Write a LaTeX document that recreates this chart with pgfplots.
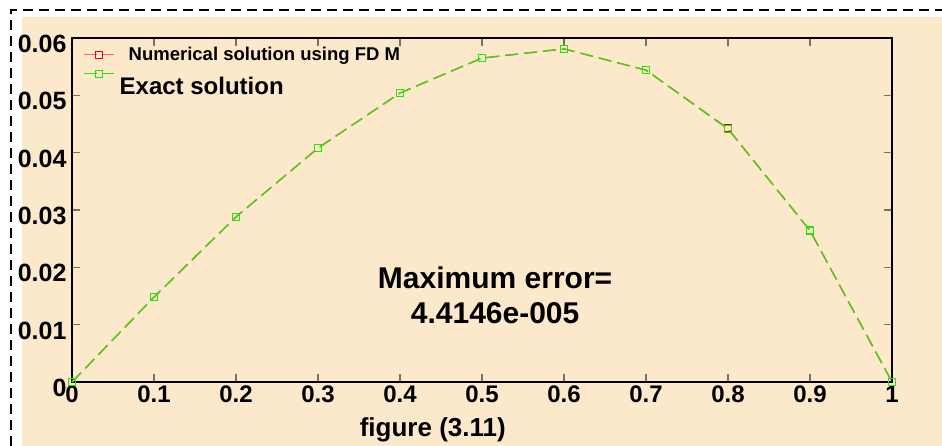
\documentclass[border=0pt]{standalone}
\usepackage{pgfplots}
\pgfplotsset{compat=1.18}
\usepackage{fontspec}
\setmainfont{Liberation Sans}

\definecolor{bgbeige}{RGB}{252,232,202}
\definecolor{fdred}{RGB}{255,100,90}
\definecolor{fdmark}{RGB}{235,0,0}
\definecolor{exgreen}{RGB}{40,225,10}
\definecolor{tickgray}{RGB}{120,112,100}

\begin{document}
\begin{tikzpicture}[x=1pt,y=1pt]
\useasboundingbox (0,0) rectangle (942,446);
\fill[white] (0,0) rectangle (942,446);
\fill[bgbeige] (22,0) rectangle (942,429);
\draw[line width=2pt, dash pattern=on 10pt off 6pt] (11,0) -- (11,436) -- (942,436);
\begin{axis}[
    at={(72pt,64pt)}, anchor=south west,
    scale only axis, width=820pt, height=344pt,
    xmin=0, xmax=1, ymin=0, ymax=0.06,
    clip=false,
    axis line style={line width=1.5pt, black},
    tick align=inside,
    major tick length=8pt,
    major tick style={tickgray, line width=1.5pt},
    /pgf/number format/assume math mode=true,
    xtick={0,0.1,0.2,0.3,0.4,0.5,0.6,0.7,0.8,0.9,1},
    xticklabels={0,0.1,0.2,0.3,0.4,0.5,0.6,0.7,0.8,0.9,1},
    ytick={0,0.01,0.02,0.03,0.04,0.05,0.06},
    yticklabels={0,0.01,0.02,0.03,0.04,0.05,0.06},
    xticklabel style={font=\bfseries\fontsize{24}{24}\selectfont},
    yticklabel style={font=\bfseries\fontsize{25}{25}\selectfont, yshift=-6pt, xshift=-2pt},
    scaled y ticks=false,
    legend style={at={(0,1)}, anchor=north west, xshift=11pt, yshift=-7pt,
        draw=none, fill=none, inner sep=0pt,
        nodes={inner sep=0pt, minimum height=19pt, anchor=west}},
    legend cell align=left,
    legend image code/.code={
        \draw[mark repeat=2, mark phase=2, #1, line width=1.5pt] plot coordinates {(0pt,0pt) (15pt,0pt) (30pt,0pt)};
    },
]
\addplot[fdred, line width=1.5pt, dash pattern=on 13pt off 6pt,
    mark=square, mark size=3.5pt,
    mark options={fdmark, solid, line width=1.3pt}]
coordinates {
    (0,0) (0.1,0.0148) (0.2,0.0288) (0.3,0.0408) (0.4,0.0504) (0.5,0.0565)
    (0.6,0.0581) (0.7,0.0544) (0.8,0.0442) (0.9,0.0264) (1,0)
};
\addplot[exgreen, line width=1.2pt, dash pattern=on 13pt off 6pt,
    mark=square, mark size=3.5pt,
    mark options={exgreen, solid, line width=1.3pt}]
coordinates {
    (0,0) (0.1,0.0148) (0.2,0.0288) (0.3,0.0408) (0.4,0.0504) (0.5,0.0565)
    (0.6,0.0581) (0.7,0.0544) (0.8,0.0441) (0.9,0.0264) (1,0)
};
\legend{{\hspace*{14pt}\smash{\raisebox{-7pt}{\bfseries\fontsize{18.5}{18.5}\selectfont Numerical solution using FD M}}},
        {\hspace*{5pt}\smash{\raisebox{-22pt}{\bfseries\fontsize{24}{24}\selectfont Exact solution}}}}

\node[align=center, font=\bfseries\fontsize{30}{35}\selectfont]
    at (axis cs:0.516,0.0152) {Maximum error=\\4.4146e-005};
\node[font=\bfseries\fontsize{26}{26}\selectfont]
    at (axis cs:0.44,-0.0084) {figure (3.11)};
\end{axis}
\end{tikzpicture}
\end{document}
